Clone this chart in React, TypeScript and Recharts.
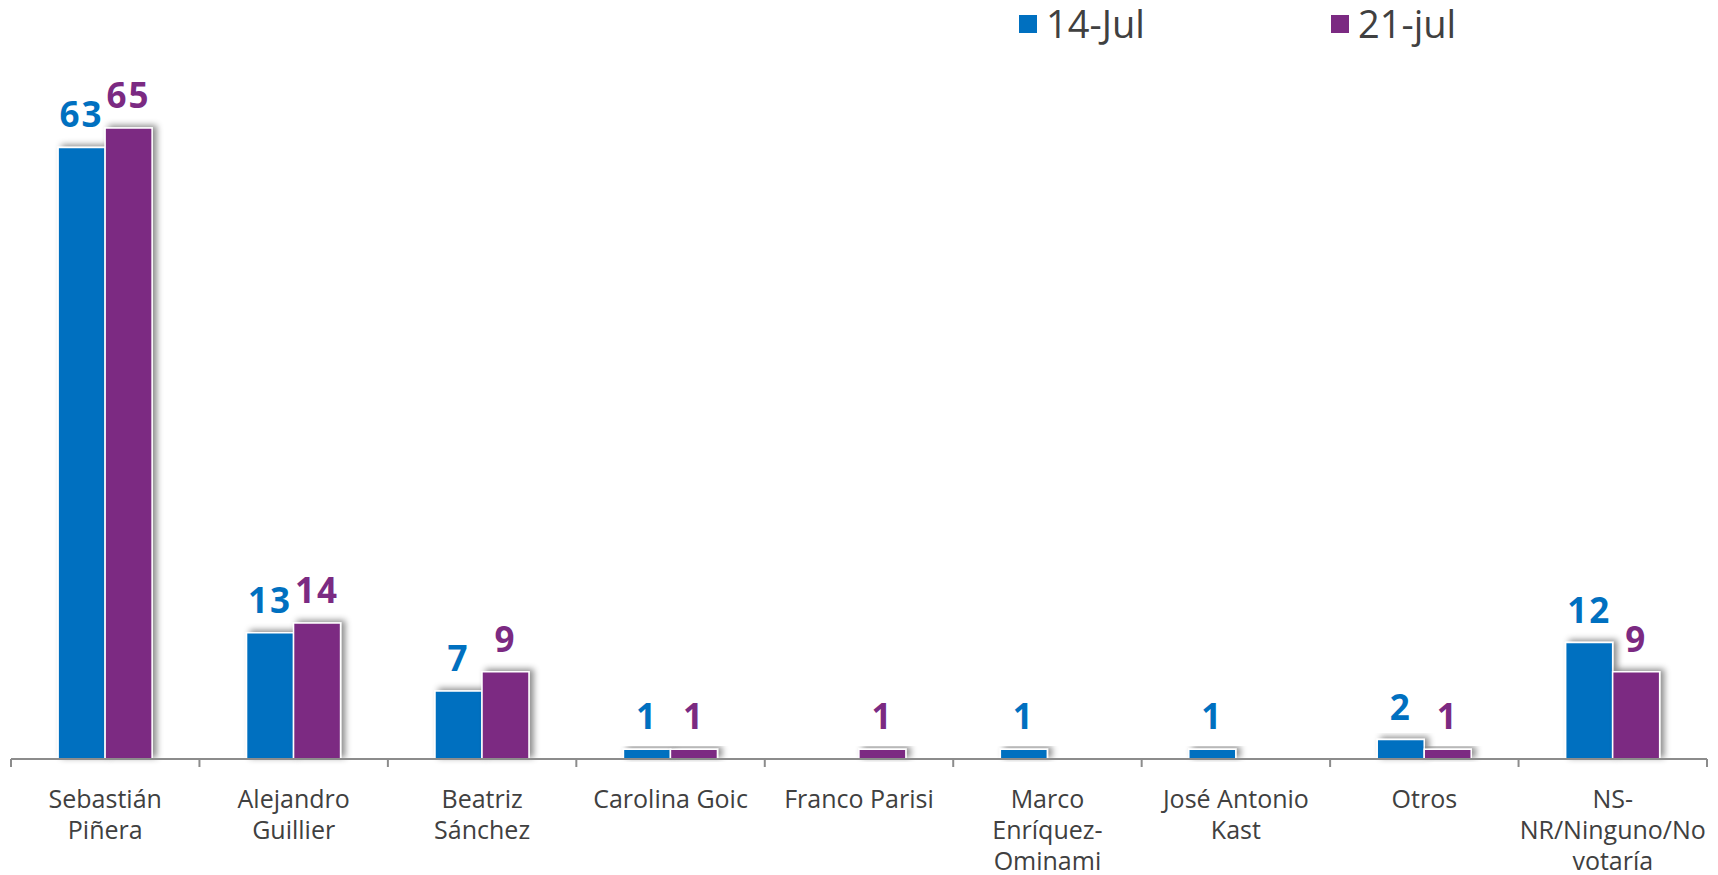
import React from "react";
import { BarChart, Bar, XAxis, YAxis, LabelList, Rectangle } from "recharts";

const categories: string[] = [
  "Sebastián\nPiñera",
  "Alejandro\nGuillier",
  "Beatriz\nSánchez",
  "Carolina Goic",
  "Franco Parisi",
  "Marco\nEnríquez-\nOminami",
  "José Antonio\nKast",
  "Otros",
  "NS-\nNR/Ninguno/No\nvotaría",
];
const series1Name = "14-Jul";
const series2Name = "21-jul";
const series1: (number | null)[] = [63, 13, 7, 1, null, 1, 1, 2, 12];
const series2: (number | null)[] = [65, 14, 9, 1, 1, null, null, 1, 9];

const BLUE = "#0070C0";
const PURPLE = "#7B2A82";
const TEXT = "#404040";
const AXIS = "#8c8c8c";

const data = categories.map((c, i) => ({ name: c, s1: series1[i], s2: series2[i] }));

const W = 1718;
const H = 875;
const ML = 11;
const MR = 11;
const BAND = (W - ML - MR) / categories.length;
const FONT = "'Open Sans', 'Noto Sans', sans-serif";

const Tick = (props: any) => {
  const { x, y, payload, index } = props;
  const lines = String(payload.value).split("\n");
  const axisY = y - 8;
  return (
    <g>
      <line x1={x - BAND / 2} x2={x - BAND / 2} y1={axisY} y2={axisY + 8} stroke={AXIS} strokeWidth={2} />
      {index === categories.length - 1 && (
        <line x1={x + BAND / 2} x2={x + BAND / 2} y1={axisY} y2={axisY + 8} stroke={AXIS} strokeWidth={2} />
      )}
      <text x={x} y={y + 41} textAnchor="middle" fill={TEXT} fontSize={25} fontFamily={FONT}>
        {lines.map((l, i) => (
          <tspan key={i} x={x} dy={i === 0 ? 0 : 31}>
            {l}
          </tspan>
        ))}
      </text>
    </g>
  );
};

const makeLabel = (color: string) => (p: any) => {
  if (p.value == null) return null;
  return (
    <text
      x={p.x + p.width / 2}
      y={p.y - 20}
      textAnchor="middle"
      fill={color}
      fontSize={35}
      fontWeight={700}
      letterSpacing={2}
      fontFamily={FONT}
    >
      {p.value}
    </text>
  );
};

const ShadowBar = (props: any) => <Rectangle {...props} filter="url(#barShadow)" />;

const legendText: React.CSSProperties = {
  position: "absolute",
  top: 0,
  lineHeight: "46px",
  fontSize: 38,
  fontFamily: FONT,
  color: TEXT,
  whiteSpace: "nowrap",
};

export default function App() {
  return (
    <div style={{ position: "absolute", left: 0, top: 0, width: W, height: H, background: "#fff" }}>
      <BarChart
        width={W}
        height={H}
        data={data}
        margin={{ top: 128, right: MR, bottom: 0, left: ML }}
        barCategoryGap="25%"
        barGap={0}
      >
        <defs>
          <filter id="barShadow" x="-30%" y="-30%" width="160%" height="160%">
            <feDropShadow dx={4} dy={-2} stdDeviation={3} floodColor="#000" floodOpacity={0.45} />
          </filter>
        </defs>
        <YAxis hide domain={[0, 65]} />
        <XAxis
          dataKey="name"
          interval={0}
          height={116}
          tickSize={8}
          tickMargin={0}
          tickLine={false}
          axisLine={{ stroke: AXIS, strokeWidth: 2 }}
          tick={<Tick />}
        />
        <Bar dataKey="s1" name={series1Name} fill={BLUE} stroke="#fff" strokeWidth={1.5} shape={<ShadowBar />} isAnimationActive={false}>
          <LabelList dataKey="s1" content={makeLabel(BLUE)} />
        </Bar>
        <Bar dataKey="s2" name={series2Name} fill={PURPLE} stroke="#fff" strokeWidth={1.5} shape={<ShadowBar />} isAnimationActive={false}>
          <LabelList dataKey="s2" content={makeLabel(PURPLE)} />
        </Bar>
      </BarChart>
      <div style={{ position: "absolute", left: 1019, top: 15, width: 18, height: 18, background: BLUE }} />
      <div style={{ ...legendText, left: 1046 }}>{series1Name}</div>
      <div style={{ position: "absolute", left: 1331, top: 15, width: 18, height: 18, background: PURPLE }} />
      <div style={{ ...legendText, left: 1358 }}>{series2Name}</div>
    </div>
  );
}
